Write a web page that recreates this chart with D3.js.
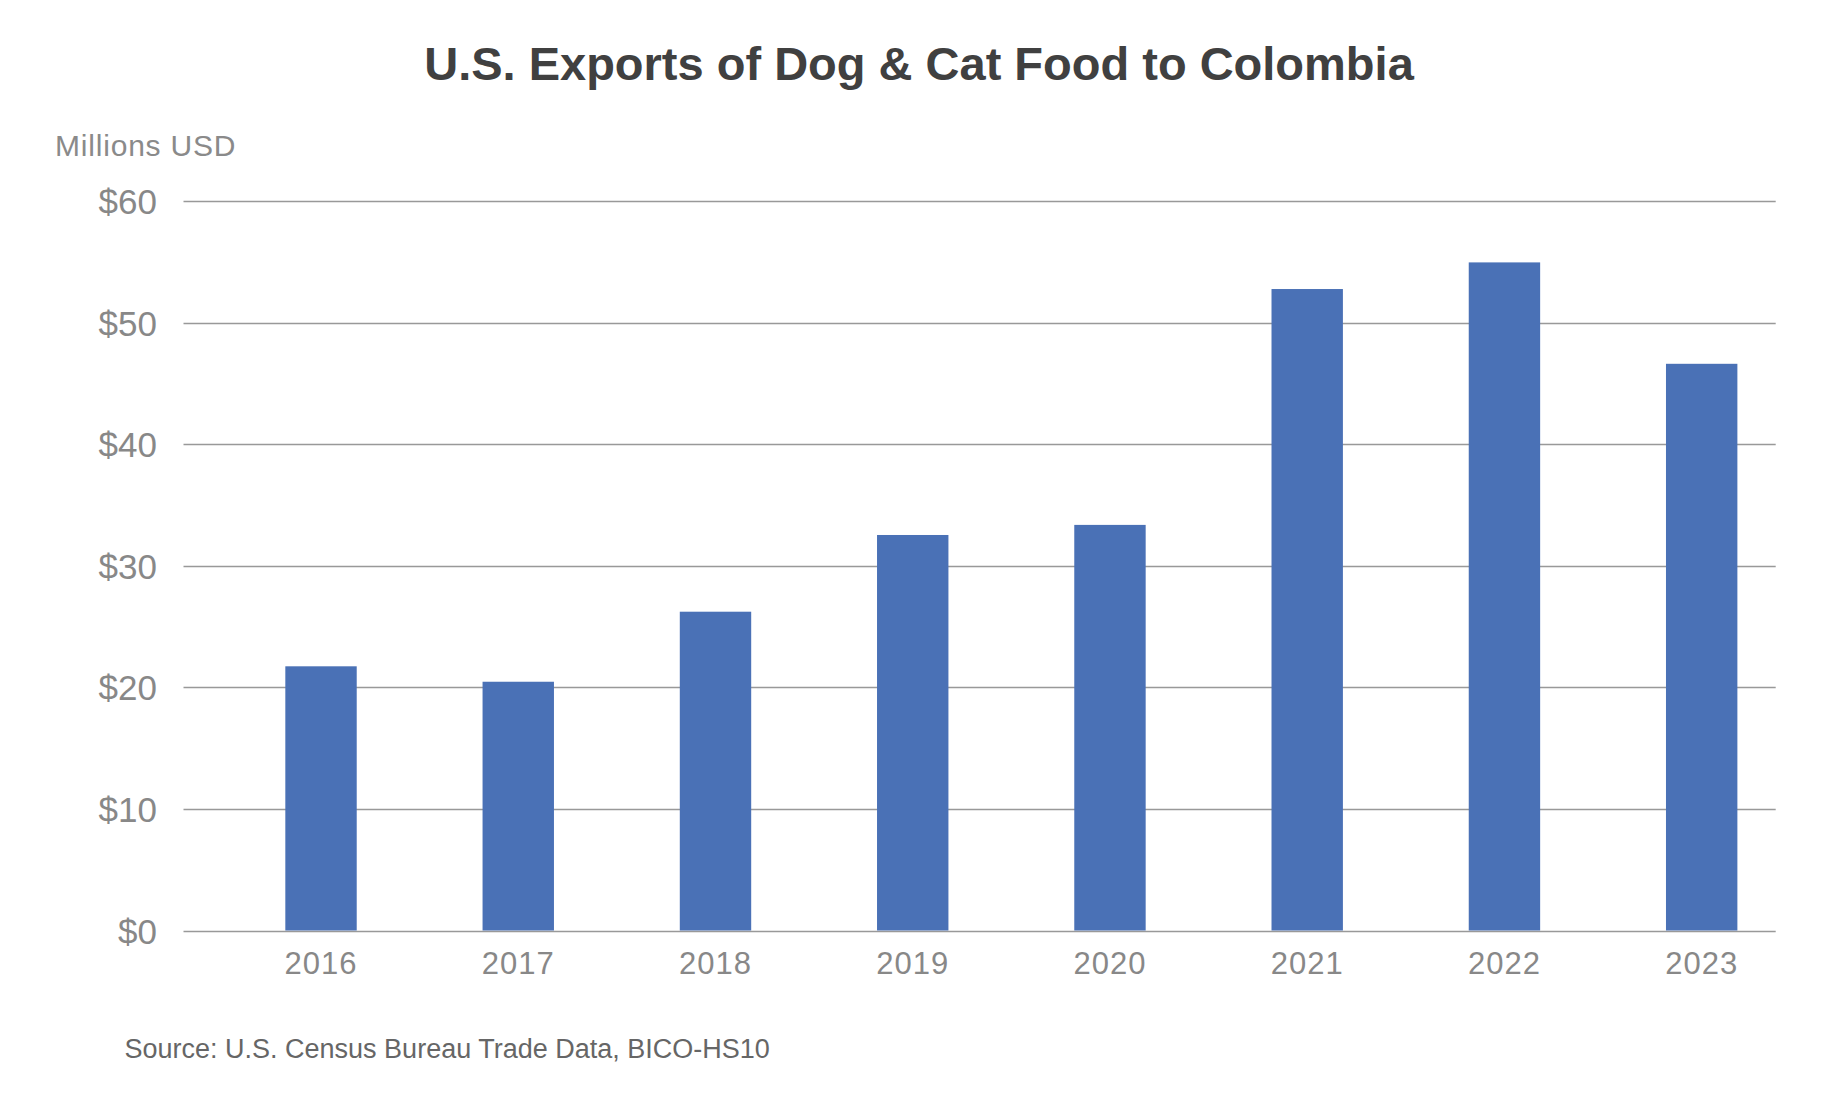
<!DOCTYPE html>
<html>
<head>
<meta charset="utf-8">
<script src="https://cdn.jsdelivr.net/npm/d3@7"></script>
<style>
  html, body { margin: 0; padding: 0; background: #ffffff; }
  svg { display: block; }
  text { font-family: "Liberation Sans", Arial, Helvetica, sans-serif; }
</style>
</head>
<body>
<svg id="chart" width="1838" height="1112"></svg>
<script>
const years = ["2016", "2017", "2018", "2019", "2020", "2021", "2022", "2023"];
const values = [21.73, 20.46, 26.22, 32.53, 33.36, 52.76, 54.95, 46.61];
const yTicks = [0, 10, 20, 30, 40, 50, 60];
const titleText = "U.S. Exports of Dog & Cat Food to Colombia";
const unitText = "Millions USD";
const sourceText = "Source: U.S. Census Bureau Trade Data, BICO-HS10";

const svg = d3.select("#chart");

const gridLeft = 183.5, gridRight = 1775.7;
const y = d3.scaleLinear().domain([0, 60]).range([930.5, 201]);
const x = d3.scaleBand().domain(years).range([222.4, 1800.3])
  .paddingInner(0.638).paddingOuter(0.319);

svg.append("rect").attr("width", 1838).attr("height", 1112).attr("fill", "#ffffff");

// title
svg.append("text")
  .attr("x", 919).attr("y", 80)
  .attr("text-anchor", "middle")
  .attr("font-size", 47).attr("font-weight", "bold")
  .attr("fill", "#404040")
  .text(titleText);

// unit label
svg.append("text")
  .attr("x", 55).attr("y", 156)
  .attr("font-size", 30).attr("letter-spacing", 0.8)
  .attr("fill", "#8a8a8a")
  .text(unitText);

// gridlines + y labels
const yAxis = d3.axisLeft(y).tickValues(yTicks).tickSize(0).tickPadding(0)
  .tickFormat(d => "$" + d);
const gy = svg.append("g").attr("transform", `translate(157,0)`).call(yAxis);
gy.select(".domain").remove();
gy.selectAll("text")
  .attr("font-size", 35)
  .attr("fill", "#888888")
  .attr("dy", "0.36em")
  .style("font-family", "'Liberation Sans', Arial, Helvetica, sans-serif");

svg.append("g").selectAll("line").data(yTicks).join("line")
  .attr("x1", gridLeft).attr("x2", gridRight)
  .attr("y1", d => Math.round(y(d)) + 0.5)
  .attr("y2", d => Math.round(y(d)) + 0.5)
  .attr("stroke", "#999999").attr("stroke-width", 1.3);

// bars
svg.append("g").selectAll("rect").data(values).join("rect")
  .attr("x", (d, i) => x(years[i]))
  .attr("width", x.bandwidth())
  .attr("y", d => y(d))
  .attr("height", d => y(0) - y(d))
  .attr("fill", "#4a71b6");

// x labels
const xAxis = d3.axisBottom(x).tickSize(0).tickPadding(0);
const gx = svg.append("g").attr("transform", `translate(0,974)`).call(xAxis);
gx.select(".domain").remove();
gx.selectAll("text")
  .attr("y", 0).attr("dy", 0)
  .attr("font-size", 31)
  .attr("letter-spacing", 1)
  .attr("fill", "#888888")
  .style("font-family", "'Liberation Sans', Arial, Helvetica, sans-serif");

// source
svg.append("text")
  .attr("x", 124.5).attr("y", 1058)
  .attr("font-size", 27)
  .attr("fill", "#666666")
  .text(sourceText);
</script>
</body>
</html>
